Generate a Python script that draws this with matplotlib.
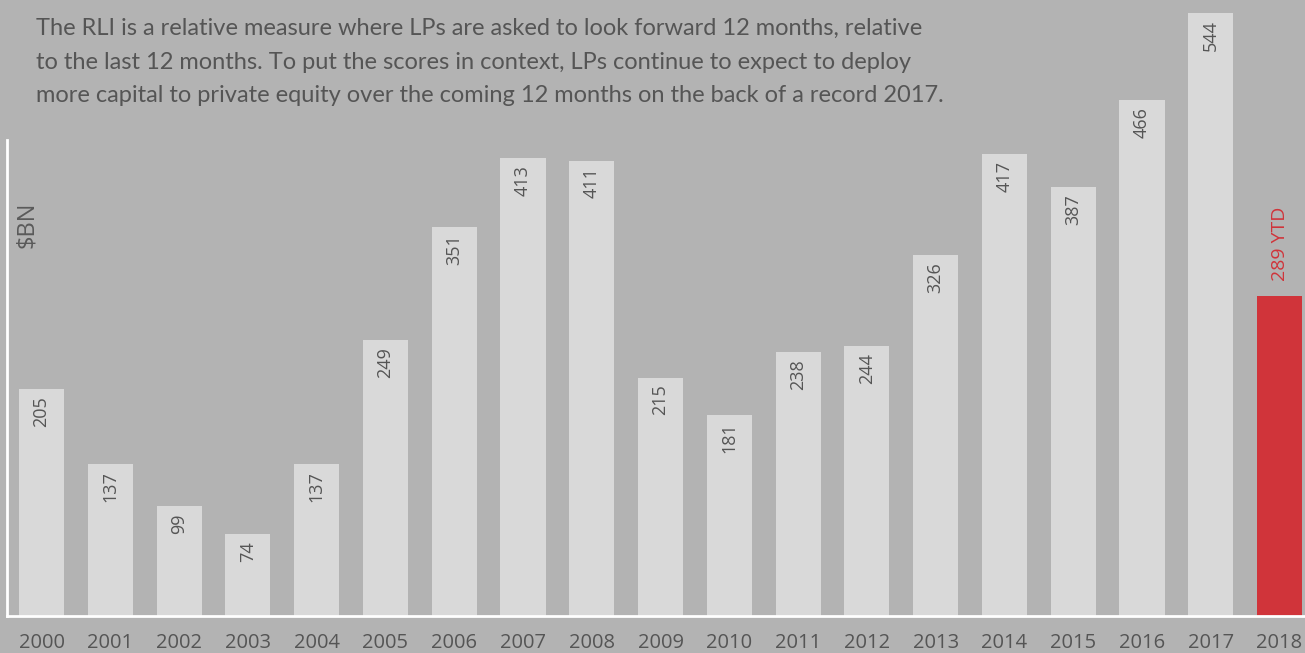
import matplotlib
matplotlib.use("Agg")
import matplotlib.pyplot as plt

years = ["2000", "2001", "2002", "2003", "2004", "2005", "2006", "2007", "2008",
         "2009", "2010", "2011", "2012", "2013", "2014", "2015", "2016", "2017", "2018"]
values = [205, 137, 99, 74, 137, 249, 351, 413, 411, 215, 181, 238, 244, 326,
          417, 387, 466, 544, 289]
labels = ["205", "137", "99", "74", "137", "249", "351", "413", "411", "215", "181",
          "238", "244", "326", "417", "387", "466", "544", "289 YTD"]
highlight = [False] * 18 + [True]

title_text = ("The RLI is a relative measure where LPs are asked to look forward 12 months, relative\n"
              "to the last 12 months. To put the scores in context, LPs continue to expect to deploy\n"
              "more capital to private equity over the coming 12 months on the back of a record 2017.")

BG = "#b3b3b3"
GREY_BAR = "#d9d9d9"
RED = "#d0343a"
TXT = "#555555"

fig = plt.figure(figsize=(13.05, 6.53), dpi=100, facecolor=BG)
ax = fig.add_axes([7 / 1305, 37 / 653, 1 - 7 / 1305, 616 / 653])
ax.set_facecolor(BG)

x = list(range(len(years)))
colors = [RED if h else GREY_BAR for h in highlight]
bars = ax.bar(x, values, width=0.655, color=colors, zorder=2)

ax.set_xlim(-0.502, 18.37)
ax.set_ylim(0, 556)

for i, (v, lab, h) in enumerate(zip(values, labels, highlight)):
    if h:
        ax.annotate(lab, xy=(i, v), xytext=(0, 11), textcoords="offset points",
                    rotation=90, ha="center", va="bottom", color=RED,
                    fontsize=14, family="Open Sans")
    else:
        ax.annotate(lab, xy=(i, v), xytext=(0, -5), textcoords="offset points",
                    rotation=90, ha="center", va="top", color=TXT,
                    fontsize=13, family="Open Sans")

ax.set_xticks(x)
ax.set_xticklabels(years, fontsize=14.5, color=TXT, family="Open Sans")
ax.tick_params(axis="x", length=0, pad=12)
ax.set_yticks([])

for s in ["top", "right"]:
    ax.spines[s].set_visible(False)
ax.spines["left"].set_color("white")
ax.spines["bottom"].set_color("white")
ax.spines["left"].set_linewidth(2)
ax.spines["bottom"].set_linewidth(2)
ax.spines["left"].set_bounds(0, 430)

fig.text(27 / 1305, 1 - 225 / 653, "$BN", rotation=90, ha="center", va="center",
         fontsize=17, color="#5a5a5a", family="Open Sans")

fig.text(36 / 1305, 1 - 18 / 653, title_text, ha="left", va="top",
         fontsize=17, color=TXT, family="Lato", linespacing=1.74)

fig.savefig("out.png", dpi=100, facecolor=BG)
